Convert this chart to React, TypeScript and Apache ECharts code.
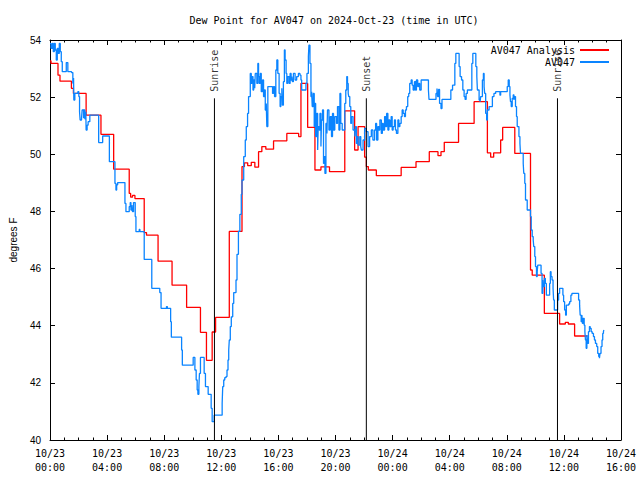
import React, { useEffect, useRef } from "react";
import * as echarts from "echarts";

const chartTitle = "Dew Point for AV047 on 2024-Oct-23 (time in UTC)";
const seriesNames = ["AV047 Analysis", "AV047"];
const yAxisName = "degrees F";
const xTickLabels = [
  "10/23\n00:00", "10/23\n04:00", "10/23\n08:00", "10/23\n12:00", "10/23\n16:00", "10/23\n20:00",
  "10/24\n00:00", "10/24\n04:00", "10/24\n08:00", "10/24\n12:00", "10/24\n16:00",
];
// hours since 2024-10-23 00:00 UTC
const eventNames = ["Sunrise", "Sunset", "Sunrise"];
const eventHours = [11.52, 22.16, 35.55];
const eventTop = 51.96;

// [hours since 10/23 00:00 UTC, dew point °F]
const analysisData: [number, number][] = [
  [0.0, 53.27], [0.07, 53.18], [0.56, 52.77], [0.7, 52.56], [1.5, 52.31], [1.64, 52.13],
  [2.53, 51.37], [3.57, 50.7], [4.46, 49.48], [5.55, 48.63], [5.65, 48.5], [5.78, 48.56],
  [5.95, 48.45], [6.6, 47.26], [6.76, 47.17], [7.57, 46.26], [8.55, 45.42], [9.57, 44.64],
  [10.54, 43.77], [10.96, 42.79], [11.36, 43.78], [11.6, 44.29], [12.56, 47.3], [13.45, 49.57],
  [13.62, 49.7], [13.85, 49.6], [14.1, 49.72], [14.35, 49.55], [14.61, 50.09], [14.84, 50.27],
  [15.12, 50.18], [15.66, 50.47], [16.59, 50.73], [17.42, 50.62], [17.58, 52.48], [18.05, 50.94],
  [18.56, 49.45], [18.98, 49.56], [19.58, 49.39], [20.65, 51.52], [21.34, 50.15], [21.58, 50.97],
  [22.04, 49.9], [22.16, 49.57], [22.3, 49.45], [22.86, 49.25], [24.6, 49.54], [25.64, 49.74],
  [26.57, 50.09], [27.18, 49.95], [27.39, 50.09], [27.62, 50.42], [28.62, 51.08], [29.71, 51.84],
  [30.64, 50.05], [30.87, 49.9], [31.08, 50.05], [31.57, 50.5], [31.71, 50.94], [32.56, 50.03],
  [33.66, 45.95], [33.78, 45.77], [34.63, 44.43], [35.7, 44.06], [36.1, 44.12], [36.31, 44.06],
  [36.75, 43.64], [37.65, 43.64],
];

const stationData: [number, number][] = [
  [0.0, 53.88], [0.07, 53.71], [0.16, 53.88], [0.23, 53.59], [0.3, 53.88], [0.37, 53.65],
  [0.44, 53.3], [0.51, 53.71], [0.58, 53.53], [0.65, 53.88], [0.72, 53.59], [0.79, 53.24],
  [0.86, 52.89], [1.14, 53.21], [1.25, 52.89], [1.51, 52.86], [1.6, 52.49], [1.65, 52.67],
  [1.67, 51.9], [1.74, 52.13], [1.95, 52.19], [2.02, 52.02], [2.07, 51.49], [2.11, 51.2],
  [2.21, 51.27], [2.25, 51.55], [2.35, 51.26], [2.39, 51.55], [2.44, 51.24], [2.51, 51.49],
  [2.53, 50.85], [2.6, 51.02], [2.67, 51.14], [2.79, 51.37], [3.41, 50.41], [3.69, 50.64],
  [4.16, 49.74], [4.55, 48.98], [4.62, 48.75], [4.67, 48.93], [4.74, 49.01], [5.25, 48.28],
  [5.32, 47.99], [5.55, 48.17], [5.62, 48.31], [5.67, 48.05], [5.74, 48.22], [5.78, 47.99],
  [5.85, 48.31], [5.97, 47.82], [6.02, 47.29], [6.25, 47.37], [6.3, 47.29], [6.6, 46.32],
  [7.13, 45.31], [7.69, 45.16], [7.78, 44.61], [8.16, 44.67], [8.22, 44.61], [8.45, 44.14],
  [8.5, 43.6], [9.22, 43.15], [9.27, 42.62], [10.03, 42.89], [10.15, 42.45], [10.24, 42.1],
  [10.31, 41.75], [10.36, 41.6], [10.43, 41.87], [10.47, 42.33], [10.54, 42.89], [10.8, 42.33],
  [10.89, 41.87], [11.08, 41.6], [11.29, 41.11], [11.36, 40.64], [11.5, 40.87], [12.06, 41.28],
  [12.1, 41.87], [12.17, 42.1], [12.24, 42.18], [12.33, 42.22], [12.4, 42.45], [12.47, 42.8],
  [12.52, 43.15], [12.56, 43.5], [12.63, 43.97], [12.7, 44.31], [12.8, 44.78], [12.87, 45.16],
  [13.03, 45.6], [13.1, 46.5], [13.2, 47.3], [13.3, 47.9], [13.4, 48.6], [13.45, 49.1],
  [13.57, 49.92], [13.68, 50.5], [13.75, 50.97], [13.84, 51.43], [13.91, 52.02], [14.03, 52.83],
  [14.1, 52.48], [14.15, 52.72], [14.22, 52.25], [14.27, 52.6], [14.34, 52.31], [14.38, 52.83],
  [14.49, 52.48], [14.56, 53.18], [14.61, 52.72], [14.66, 52.48], [14.73, 52.83], [14.8, 52.19],
  [14.89, 52.6], [14.96, 52.02], [15.03, 52.25], [15.08, 51.55], [15.15, 51.78], [15.19, 50.97],
  [15.26, 52.37], [15.59, 52.13], [15.66, 52.37], [15.73, 52.02], [15.82, 52.95], [15.89, 53.3],
  [15.96, 52.83], [16.05, 52.13], [16.12, 51.67], [16.17, 52.02], [16.24, 52.31], [16.28, 51.72],
  [16.35, 52.54], [16.42, 53.65], [16.47, 53.3], [16.54, 52.83], [16.59, 52.48], [16.65, 52.72],
  [16.75, 52.48], [16.82, 52.83], [16.89, 52.6], [16.94, 52.72], [16.98, 52.54], [17.05, 52.83],
  [17.17, 52.6], [17.28, 52.72], [17.4, 52.83], [17.51, 52.77], [17.58, 52.6], [17.63, 52.25],
  [17.93, 52.48], [18.0, 52.83], [18.1, 53.42], [18.14, 53.82], [18.21, 53.18], [18.28, 52.02],
  [18.33, 52.19], [18.37, 51.67], [18.44, 52.13], [18.51, 50.97], [18.56, 51.78], [18.61, 50.62],
  [18.68, 51.43], [18.75, 50.15], [18.79, 50.97], [18.86, 50.85], [18.91, 51.43], [18.98, 50.27],
  [19.02, 51.2], [19.09, 51.55], [19.16, 49.68], [19.21, 49.92], [19.26, 49.33], [19.33, 51.08],
  [19.4, 50.73], [19.44, 51.55], [19.54, 50.85], [19.63, 51.32], [19.72, 50.62], [19.79, 51.43],
  [19.86, 50.85], [19.95, 51.32], [20.07, 51.08], [20.14, 51.67], [20.24, 50.85], [20.31, 52.13],
  [20.37, 51.08], [20.47, 50.85], [20.65, 51.78], [20.72, 52.25], [20.79, 52.72], [20.84, 52.48],
  [20.89, 52.13], [20.93, 52.02], [21.0, 51.67], [21.07, 51.08], [21.12, 51.32], [21.23, 50.85],
  [21.35, 50.62], [21.39, 50.97], [21.46, 50.38], [21.53, 50.62], [21.58, 50.32], [21.7, 50.62],
  [21.77, 50.27], [21.81, 50.15], [21.93, 50.5], [22.04, 50.91], [22.16, 50.79], [22.28, 50.27],
  [22.39, 50.62], [22.51, 50.85], [22.62, 50.5], [22.74, 50.85], [22.81, 51.08], [22.88, 50.5],
  [22.97, 50.97], [23.04, 50.85], [23.11, 51.2], [23.21, 50.73], [23.28, 51.08], [23.35, 50.85],
  [23.44, 51.32], [23.51, 50.97], [23.58, 51.43], [23.67, 50.85], [23.74, 51.2], [23.81, 50.97],
  [23.9, 51.32], [23.97, 50.85], [24.04, 50.97], [24.13, 51.2], [24.2, 50.85], [24.27, 50.73],
  [24.37, 51.2], [24.44, 50.97], [24.51, 51.08], [24.6, 51.32], [24.67, 51.55], [24.74, 51.43],
  [24.83, 51.32], [24.9, 51.55], [24.97, 51.67], [25.06, 52.02], [25.13, 52.13], [25.2, 52.48],
  [25.3, 52.6], [25.37, 52.42], [25.44, 52.25], [25.53, 52.54], [25.6, 52.25], [25.67, 52.6],
  [25.76, 52.37], [25.83, 52.48], [25.9, 52.25], [26.0, 52.6], [26.51, 52.25], [26.55, 51.92],
  [27.04, 52.13], [27.11, 52.3], [27.15, 52.02], [27.22, 52.27], [27.29, 51.78], [27.39, 51.6],
  [27.46, 51.92], [28.08, 52.25], [28.2, 52.42], [28.36, 53.18], [28.43, 53.53], [28.66, 53.07],
  [28.73, 52.72], [28.83, 52.6], [28.92, 52.25], [29.01, 52.02], [29.08, 51.92], [29.15, 52.13],
  [29.24, 52.25], [29.55, 53.18], [29.62, 53.53], [29.83, 53.07], [29.9, 52.72], [29.94, 52.25],
  [30.06, 51.9], [30.13, 51.84], [30.17, 52.02], [30.29, 52.6], [30.36, 52.83], [30.41, 52.37],
  [30.45, 52.13], [30.52, 51.43], [30.59, 51.2], [30.64, 51.55], [30.76, 51.67], [30.99, 52.02],
  [31.1, 52.13], [31.22, 52.19], [31.52, 52.07], [31.57, 52.19], [32.03, 52.37], [32.1, 52.6],
  [32.17, 52.37], [32.22, 52.08], [32.26, 51.84], [32.31, 51.67], [32.38, 51.96], [32.45, 52.08],
  [32.5, 51.9], [32.54, 52.02], [32.61, 51.67], [32.68, 51.32], [32.73, 50.97], [32.85, 50.62],
  [32.92, 50.38], [32.96, 50.03], [33.15, 49.68], [33.19, 49.33], [33.26, 48.98], [33.31, 48.4],
  [33.43, 48.05], [33.66, 47.82], [33.71, 47.35], [33.78, 47.12], [33.85, 47.0], [33.89, 46.77],
  [33.96, 46.42], [34.01, 46.07], [34.08, 45.72], [34.13, 45.89], [34.17, 46.12], [34.4, 45.83],
  [34.47, 45.13], [34.52, 45.6], [34.56, 45.37], [34.63, 45.66], [34.7, 45.48], [34.77, 45.07],
  [35.0, 45.48], [35.05, 45.89], [35.1, 45.72], [35.17, 45.6], [35.24, 45.31], [35.28, 44.9],
  [35.33, 44.55], [35.56, 44.9], [35.63, 45.13], [35.7, 45.31], [35.93, 45.07], [35.98, 44.84],
  [36.05, 44.55], [36.12, 44.37], [36.17, 44.72], [36.33, 44.76], [36.4, 44.84], [36.49, 45.07],
  [36.56, 45.13], [37.03, 44.9], [37.1, 44.72], [37.14, 44.37], [37.21, 44.14], [37.26, 44.37],
  [37.3, 44.08], [37.35, 44.26], [37.42, 44.02], [37.47, 43.79], [37.51, 43.5], [37.56, 43.21],
  [37.61, 43.67], [37.65, 43.38], [37.72, 43.79], [37.79, 43.97], [37.84, 43.91], [37.91, 43.79],
  [37.98, 43.73], [38.07, 43.62], [38.14, 43.5], [38.21, 43.38], [38.3, 43.27], [38.37, 43.03],
  [38.44, 42.92], [38.49, 42.86], [38.53, 43.03], [38.6, 43.27], [38.67, 43.5], [38.72, 43.73],
  [38.77, 43.79], [38.8, 43.85],
];

const MONO = "'DejaVu Sans Mono', 'Liberation Mono', monospace";
const SANS = "'Liberation Sans', Arial, sans-serif";

function makeXAxis(position: "bottom" | "top", showLabels: boolean) {
  return {
    type: "value",
    position,
    min: 0,
    max: 40,
    interval: 4,
    axisLine: { show: true, onZero: false, lineStyle: { color: "#000", width: 1 } },
    axisTick: { show: true, inside: true, length: 5, lineStyle: { color: "#000" } },
    minorTick: { show: true, splitNumber: 4, length: 2.5, lineStyle: { color: "#000" } },
    splitLine: { show: false },
    minorSplitLine: { show: false },
    axisLabel: {
      show: showLabels,
      showMinLabel: true,
      showMaxLabel: true,
      formatter: (v: number) => xTickLabels[Math.round(v / 4)] ?? "",
      fontFamily: MONO,
      fontSize: 10,
      color: "#000",
      lineHeight: 14,
      margin: 6,
    },
  };
}

function makeYAxis(position: "left" | "right", showLabels: boolean) {
  return {
    type: "value",
    position,
    min: 40,
    max: 54,
    interval: 2,
    name: showLabels ? yAxisName : "",
    nameLocation: "middle",
    nameRotate: 90,
    nameGap: 32,
    nameTextStyle: { fontFamily: SANS, fontSize: 10, color: "#000" },
    axisLine: { show: true, onZero: false, lineStyle: { color: "#000", width: 1 } },
    axisTick: { show: true, inside: true, length: 5, lineStyle: { color: "#000" } },
    splitLine: { show: false },
    axisLabel: {
      show: showLabels,
      fontFamily: SANS,
      fontSize: 10,
      color: "#000",
      margin: 9,
    },
  };
}

export default function App() {
  const ref = useRef<HTMLDivElement>(null);
  useEffect(() => {
    if (!ref.current) return;
    const chart = echarts.init(ref.current, undefined, { renderer: "svg" });
    const eventLineSeries = eventHours.map((h) => ({
      type: "line",
      data: [[h, 40], [h, eventTop]],
      symbol: "none",
      silent: true,
      z: 5,
      lineStyle: { color: "#000", width: 1 },
    }));
    chart.setOption({
      animation: false,
      backgroundColor: "#fff",
      title: {
        text: chartTitle,
        left: 334,
        top: 15,
        textAlign: "center",
        padding: 0,
        textStyle: { fontFamily: MONO, fontSize: 10, fontWeight: "normal", color: "#000" },
      },
      legend: {
        data: seriesNames,
        orient: "vertical",
        right: 30,
        top: 45,
        padding: 0,
        align: "right",
        itemWidth: 29,
        itemHeight: 10,
        itemGap: 2,
        itemStyle: { opacity: 0 },
        textStyle: { fontFamily: MONO, fontSize: 10, color: "#000" },
      },
      grid: { left: 47, top: 40, right: 19, bottom: 40 },
      xAxis: [makeXAxis("bottom", true), makeXAxis("top", false)],
      yAxis: [makeYAxis("left", true), makeYAxis("right", false)],
      series: [
        {
          name: seriesNames[0],
          type: "line",
          step: "end",
          data: analysisData,
          symbol: "none",
          color: "#ff0000",
          lineStyle: { color: "#ff0000", width: 1.3 },
          z: 2,
        },
        {
          name: seriesNames[1],
          type: "line",
          step: "end",
          data: stationData,
          symbol: "none",
          color: "#0a84ff",
          lineStyle: { color: "#0a84ff", width: 1.3 },
          z: 3,
        },
        ...eventLineSeries,
        {
          type: "scatter",
          data: eventHours.map((h, i) => ({ value: [h, eventTop], name: eventNames[i] })),
          symbolSize: 1,
          silent: true,
          z: 6,
          itemStyle: { color: "rgba(0,0,0,0)" },
          label: {
            show: true,
            position: "top",
            distance: 6,
            rotate: 90,
            align: "left",
            verticalAlign: "middle",
            formatter: (p: any) => p.name,
            fontFamily: MONO,
            fontSize: 10,
            color: "#000",
          },
        },
      ],
    });
    return () => chart.dispose();
  }, []);
  return (
    <div
      ref={ref}
      style={{ position: "absolute", left: 0, top: 0, width: 640, height: 480 }}
    />
  );
}
